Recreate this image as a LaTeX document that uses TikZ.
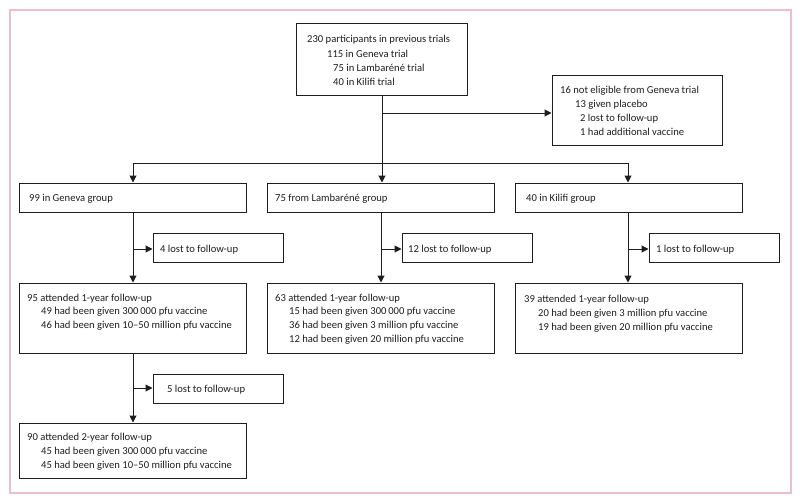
\documentclass[tikz,border=0pt]{standalone}
\usepackage{fontspec}
\setmainfont{Carlito}
\usetikzlibrary{arrows.meta}
\definecolor{framepink}{RGB}{236,190,208}
\definecolor{ink}{RGB}{30,30,30}
\tikzset{
  box/.style={draw=ink, line width=1pt, inner sep=0pt},
  txt/.style={anchor=base west, inner sep=0pt, font=\fontsize{10.6}{12}\selectfont, text=ink},
  conn/.style={draw=ink, line width=1pt},
  arr/.style={conn, -{Triangle[length=7pt,width=7pt]}},
}
\newcommand{\bx}[5]{\node[box, minimum width=#4-#2, minimum height=#5-#3] (#1) at ({(#2+#4)/2},{(#3+#5)/2}) {};}
\begin{document}
\begin{tikzpicture}[x=1pt,y=-1pt]
\useasboundingbox (0,0) rectangle (800,503);
\draw[framepink, line width=2pt] (10,10) rectangle (791,493);
% boxes
\bx{top}{296}{24}{467}{95}
\bx{excl}{552}{75}{722}{145}
\bx{gen}{19}{183}{246}{212}
\bx{lam}{267}{183}{494}{212}
\bx{kil}{515}{183}{742}{212}
\bx{genlost}{153}{233}{283}{262}
\bx{lamlost}{402}{233}{532}{262}
\bx{killost}{649}{233}{779}{262}
\bx{genone}{19}{283}{246}{353}
\bx{lamone}{267}{283}{494}{353}
\bx{kilone}{515}{283}{742}{353}
\bx{genlosttwo}{153}{374}{283}{403}
\bx{gentwo}{19}{423}{246}{478}
% texts
\node[txt] (t1) at (307,43) {230 participants in previous trials};
\node[txt] (t2) at (327,57) {115 in Geneva trial};
\node[txt] (t3) at (333,71) {75 in Lambaréné trial};
\node[txt] (t4) at (333,85) {40 in Kilifi trial};
\node[txt] (e1) at (560,93) {16 not eligible from Geneva trial};
\node[txt] (e2) at (575,107) {13 given placebo};
\node[txt] (e3) at (580,121) {2 lost to follow-up};
\node[txt] (e4) at (580,135) {1 had additional vaccine};
\node[txt] (g0) at (29,201) {99 in Geneva group};
\node[txt] (l0) at (275,201) {75 from Lambaréné group};
\node[txt] (k0) at (526,201) {40 in Kilifi group};
\node[txt] (gl) at (160,252) {4 lost to follow-up};
\node[txt] (ll) at (408,252) {12 lost to follow-up};
\node[txt] (kl) at (656,252) {1 lost to follow-up};
\node[txt] (g1) at (27,301) {95 attended 1-year follow-up};
\node[txt] (g2) at (41,314) {49 had been given 300\,000 pfu vaccine};
\node[txt] (g3) at (41,328) {46 had been given 10–50 million pfu vaccine};
\node[txt] (l1) at (275,301) {63 attended 1-year follow-up};
\node[txt] (l2) at (289,314) {15 had been given 300\,000 pfu vaccine};
\node[txt] (l3) at (289,328) {36 had been given 3 million pfu vaccine};
\node[txt] (l4) at (289,342) {12 had been given 20 million pfu vaccine};
\node[txt] (k1) at (524,302) {39 attended 1-year follow-up};
\node[txt] (k2) at (538,316) {20 had been given 3 million pfu vaccine};
\node[txt] (k3) at (538,330) {19 had been given 20 million pfu vaccine};
\node[txt] (gl2) at (167,392) {5 lost to follow-up};
\node[txt] (w1) at (27,440) {90 attended 2-year follow-up};
\node[txt] (w2) at (41,454) {45 had been given 300\,000 pfu vaccine};
\node[txt] (w3) at (41,468) {45 had been given 10–50 million pfu vaccine};
% connectors
\coordinate (split) at (382,163);
\coordinate (exj) at (382,113);
\draw[conn] (top.south -| split) -- (split);
\draw[arr] (exj) -- (exj -| excl.west);
\draw[conn] (133,163) -- (628,163);
\draw[arr] (133,163) -- (gen.north -| 133,0);
\draw[arr] (split) -- (lam.north -| split);
\draw[arr] (628,163) -- (kil.north -| 628,0);
% Geneva
\coordinate (gx) at (133,249);
\draw[arr] (gen.south -| gx) -- (genone.north -| gx);
\draw[arr] (gx) -- (genlost.west |- gx);
\coordinate (lx) at (381,249);
\draw[arr] (lam.south -| lx) -- (lamone.north -| lx);
\draw[arr] (lx) -- (lamlost.west |- lx);
\coordinate (kx) at (628,249);
\draw[arr] (kil.south -| kx) -- (kilone.north -| kx);
\draw[arr] (kx) -- (killost.west |- kx);
\coordinate (gy) at (133,388);
\draw[arr] (genone.south -| gy) -- (gentwo.north -| gy);
\draw[arr] (gy) -- (genlosttwo.west |- gy);
\end{tikzpicture}
\end{document}
